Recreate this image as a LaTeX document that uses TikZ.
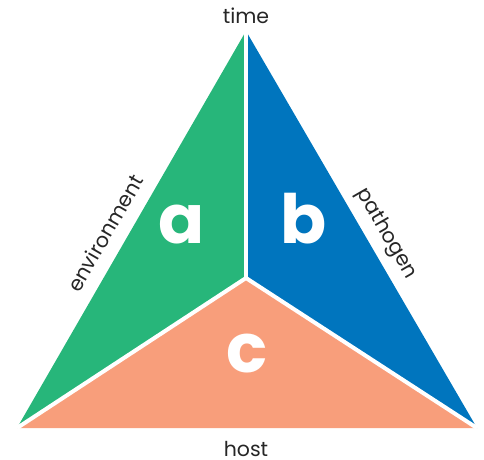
\documentclass[tikz,border=0pt]{standalone}
\usepackage{fontspec}
\setmainfont{Poppins}
\definecolor{cgreen}{HTML}{27B67A}
\definecolor{cblue}{HTML}{0075BE}
\definecolor{corange}{HTML}{F89E7B}
\begin{document}
\begin{tikzpicture}[x=1pt,y=-1pt,
  lbl/.style={font=\fontsize{20.5}{24}\selectfont, text=black!85, inner sep=0pt},
  big/.style={font=\fontsize{68}{68}\selectfont\bfseries, text=white, inner sep=0pt, anchor=base},
  gap/.style={draw=white, line width=4pt}]
\useasboundingbox (0,0) rectangle (484,459);
\coordinate (T) at (246,31);
\coordinate (L) at (17,428);
\coordinate (R) at (477,428);
\coordinate (C) at (246,278);
\fill[cgreen] (T) -- (L) -- (C) -- cycle;
\fill[cblue] (T) -- (R) -- (C) -- cycle;
\fill[corange] (L) -- (R) -- (C) -- cycle;
\draw[gap] (C) -- (T);
\draw[gap] (C) -- (L);
\draw[gap] (C) -- (R);
\node[big] (a) at (182,243) {a};
\node[big] (b) at (304,243) {b};
\node[big] (c) at (247,372) {c};
\node[lbl, anchor=base] (time) at (246,23) {time};
\node[lbl, anchor=base] (host) at (246,456) {host};
\node[lbl, rotate=60] (env) at (105,233) {environment};
\node[lbl, rotate=-60] (path) at (386,234) {pathogen};
\end{tikzpicture}
\end{document}
